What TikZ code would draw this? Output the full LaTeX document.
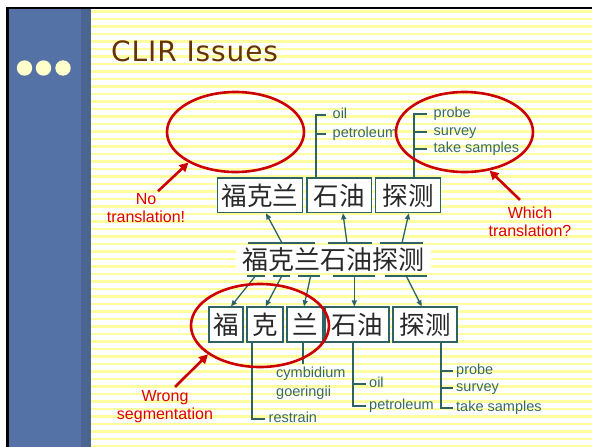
\documentclass[tikz,border=0pt]{standalone}
\usepackage{fontspec}
\setmainfont{Liberation Sans}
\newfontfamily\titlefont[LetterSpace=3.2]{DejaVu Sans}
\newfontfamily\cjk{Noto Sans CJK SC}
\usetikzlibrary{shapes.geometric,arrows.meta}
\definecolor{tealc}{RGB}{47,98,98}
\definecolor{labc}{RGB}{55,105,105}
\definecolor{redc}{RGB}{221,0,0}
\definecolor{ellc}{RGB}{204,0,0}
\definecolor{sideblue}{RGB}{84,114,165}
\definecolor{sidedark}{RGB}{74,101,148}
\definecolor{dotc}{RGB}{255,255,204}
\definecolor{titlec}{RGB}{102,51,0}
\definecolor{stripec}{RGB}{255,255,160}
\definecolor{cjkc}{RGB}{40,40,40}
\begin{document}
\begin{tikzpicture}[x=1pt,y=-1pt,
  cbox/.style={draw=tealc,line width=1.2pt,fill=white,inner sep=0pt,
    font=\cjk\fontsize{25.5}{26}\selectfont,text=cjkc},
  lab/.style={anchor=west,text=labc,font=\fontsize{14.5}{17}\selectfont,
    text height=7.5pt,text depth=0pt,inner ysep=0pt,inner xsep=3pt},
  labt/.style={lab,inner xsep=6.5pt},
  tree/.style={draw=tealc,line width=1.2pt},
  arr/.style={draw=tealc,line width=1.3pt,-{Triangle[length=6pt,width=5pt]}},
  seg/.style={draw=tealc,line width=1.5pt},
  redtext/.style={text=redc,align=center,font=\fontsize{16}{18}\selectfont,inner sep=0pt},
  ell/.style={ellipse,draw=ellc,line width=2.6pt,inner sep=0pt},
  redarr/.style={draw=ellc,line width=2.6pt,-{Triangle[length=9pt,width=9pt]}}]
\useasboundingbox (0,0) rectangle (592,447);
\fill[white] (0,0) rectangle (592,447);
% striped background
\begin{scope}
  \clip (91,9) rectangle (592,447);
  \foreach \k in {0,...,58} \fill[stripec] (91,{10+7.5*\k}) rectangle (592,{12.7+7.5*\k});
\end{scope}
% sidebar and border
\fill[sideblue] (9,9) rectangle (81,447);
\fill[sidedark] (81,9) rectangle (91,447);
\fill[black] (6,6.7) rectangle (592,9.3);
\fill[black] (6,6.7) rectangle (9,447);
\fill[dotc] (24.5,68) circle (7.7);
\fill[dotc] (43.5,68) circle (7.7);
\fill[dotc] (63,68) circle (7.7);
% title
\node[anchor=base west,inner sep=0pt,text=titlec,
  font=\titlefont\fontsize{28}{30}\selectfont] (title) at (111,61) {CLIR Issues};

% top boxes
\node[cbox,minimum width=85pt,minimum height=34.7pt] (t1) at (260.2,195.35) {福克兰};
\node[cbox,minimum width=64.7pt,minimum height=34.7pt] (t2) at (339.35,195.35) {石油};
\node[cbox,minimum width=65pt,minimum height=34.7pt] (t3) at (408.2,195.35) {探测};

% middle string
\node[fill=white,inner sep=0pt,minimum width=195pt,minimum height=27pt,
  font=\cjk\fontsize{26}{26}\selectfont,text=cjkc] (m) at (333,259.5) {福克兰石油探测};
\coordinate (ua1) at (248,243); \coordinate (ua2) at (315,243);
\coordinate (ub1) at (328,243); \coordinate (ub2) at (372,243);
\coordinate (uc1) at (380,243); \coordinate (uc2) at (423,243);
\draw[seg] (ua1) -- (ua2); \draw[seg] (ub1) -- (ub2); \draw[seg] (uc1) -- (uc2);
\coordinate (la1) at (247,276); \coordinate (la2) at (265,276);
\coordinate (lb1) at (273,276); \coordinate (lb2) at (290,276);
\coordinate (lc1) at (298,276); \coordinate (lc2) at (320,276);
\coordinate (ld1) at (333,276); \coordinate (ld2) at (375,276);
\coordinate (le1) at (385,276); \coordinate (le2) at (427,276);
\draw[seg] (la1) -- (la2); \draw[seg] (lb1) -- (lb2); \draw[seg] (lc1) -- (lc2);
\draw[seg] (ld1) -- (ld2); \draw[seg] (le1) -- (le2);

% bottom boxes
\node[cbox,minimum width=34pt,minimum height=35pt] (b1) at (226,324.5) {福};
\node[cbox,minimum width=36pt,minimum height=35pt] (b2) at (265,324.5) {克};
\node[cbox,minimum width=36pt,minimum height=35pt] (b3) at (305,324.5) {兰};
\node[cbox,minimum width=64pt,minimum height=35pt] (b4) at (357,324.5) {石油};
\node[cbox,minimum width=64pt,minimum height=35pt] (b5) at (425,324.5) {探测};

% arrows up
\coordinate (sa) at (282,243); \coordinate (sb) at (347,243); \coordinate (sc) at (402,243);
\draw[arr] (sa) -- ([xshift=5.8pt]t1.south);
\draw[arr] (sb) -- ([xshift=3.6pt]t2.south);
\draw[arr] (sc) -- ([xshift=0.6pt]t3.south);
% arrows down
\coordinate (da) at (255,276.5); \coordinate (db) at (281.5,276.5); \coordinate (dc) at (310.5,276.5);
\coordinate (dd) at (354.3,276.5); \coordinate (de) at (406.5,276.5);
\draw[arr] (da) -- ([xshift=5pt]b1.north);
\draw[arr] (db) -- ([xshift=0.7pt]b2.north);
\draw[arr] (dc) -- ([xshift=-1pt]b3.north);
\draw[arr] (dd) -- ([xshift=-2.7pt]b4.north);
\draw[arr] (de) -- ([xshift=-3.3pt]b5.north);

% top labels
\node[labt] (oilA) at (326,115) {oil};
\node[labt] (petA) at (326,134) {petroleum};
\node[labt] (probeA) at (427,114) {probe};
\node[labt] (survA) at (427,132) {survey};
\node[labt] (takeA) at (427,149) {take samples};
\coordinate (t2r) at ([xshift=-23.35pt]t2.north);
\coordinate (t3r) at ([xshift=5.8pt]t3.north);
\draw[tree] (t2r) |- (oilA.west);
\draw[tree] (t2r |- petA.west) -- (petA.west);
\draw[tree] (t3r) |- (probeA.west);
\draw[tree] (t3r |- survA.west) -- (survA.west);
\draw[tree] (t3r |- takeA.west) -- (takeA.west);

% bottom labels
\node[lab,inner xsep=3.5pt] (restr) at (265,419) {restrain};
\node[anchor=base west,inner sep=0pt,text=labc,font=\fontsize{14.5}{17}\selectfont] (cymb) at (276,377.5) {cymbidium};
\node[anchor=base west,inner sep=0pt,text=labc,font=\fontsize{14.5}{17}\selectfont] (goer) at (276,396) {goeringii};
\node[lab] (oilB) at (366,384) {oil};
\node[lab] (petB) at (366,406) {petroleum};
\node[lab] (probeB) at (453,371) {probe};
\node[lab] (survB) at (453,388) {survey};
\node[lab] (takeB) at (453,408) {take samples};
\coordinate (b2r) at ([xshift=-13pt]b2.south);
\coordinate (b3r) at ([xshift=-2pt]b3.south);
\coordinate (b3e) at (303,364);
\coordinate (b4r) at ([xshift=-4pt]b4.south);
\coordinate (b5r) at ([xshift=16pt]b5.south);
\draw[tree] (b2r) |- (restr.west);
\draw[tree] (b3r) -- (b3e);
\draw[tree] (b4r) |- (petB.west);
\draw[tree] (b4r |- oilB.west) -- (oilB.west);
\draw[tree] (b5r) |- (takeB.west);
\draw[tree] (b5r |- probeB.west) -- (probeB.west);
\draw[tree] (b5r |- survB.west) -- (survB.west);

% red annotations
\node[ell,minimum width=137pt,minimum height=80pt] (e1) at (235.5,132) {};
\node[ell,minimum width=137pt,minimum height=80pt] (e2) at (464.5,132) {};
\node[ell,minimum width=138pt,minimum height=83pt] (e3) at (260,325.5) {};
\node[redtext] (nt) at (146,208) {No\\translation!};
\node[redtext] (wt) at (530,222) {Which\\translation?};
\node[redtext] (ws) at (165,406.3) {Wrong\\segmentation};
\draw[redarr] ([xshift=12pt,yshift=2pt]nt.north) -- (e1.213);
\draw[redarr] ([xshift=-10pt,yshift=7pt]wt.north) -- (e2.303);
\draw[redarr] ([xshift=10pt,yshift=3pt]ws.north) -- (e3.209.6);
\end{tikzpicture}
\end{document}
